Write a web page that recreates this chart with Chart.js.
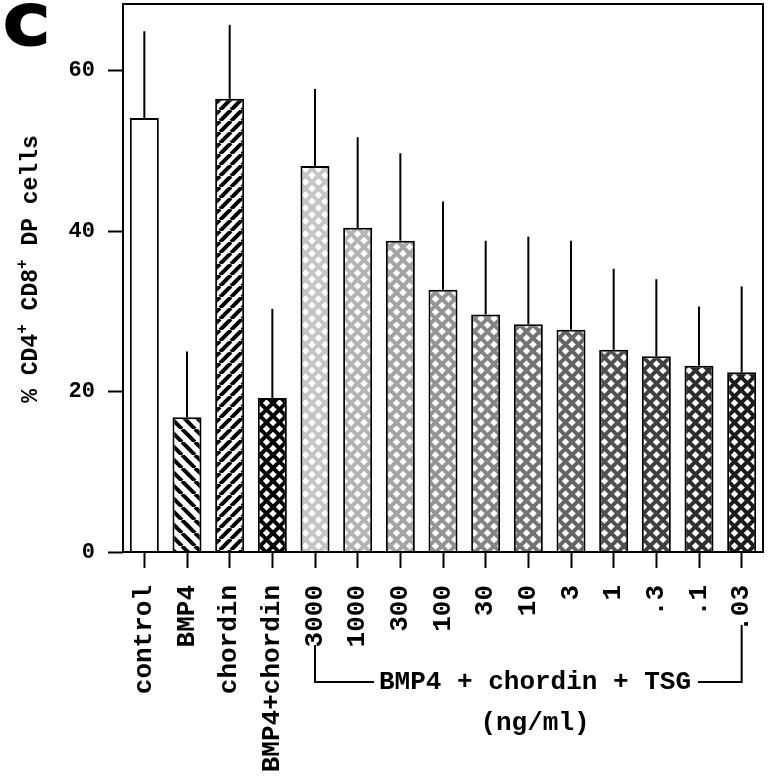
<!DOCTYPE html>
<html>
<head>
<meta charset="utf-8">
<script src="https://cdn.jsdelivr.net/npm/chart.js@4.4.1/dist/chart.umd.min.js"></script>
<style>
html, body { margin: 0; padding: 0; background: #fff; }
</style>
</head>
<body>
<canvas id="dpChart" width="770" height="782"></canvas>
<script>
// Daten
const categories = ['control', 'BMP4', 'chordin', 'BMP4+chordin', '3000', '1000', '300', '100', '30', '10', '3', '1', '.3', '.1', '.03'];
const meanValues = [54.1, 16.8, 56.5, 19.2, 48.1, 40.4, 38.8, 32.7, 29.6, 28.4, 27.7, 25.2, 24.4, 23.2, 22.4];
const sdValues = [10.8, 8.2, 9.2, 11.1, 9.6, 11.3, 10.9, 11.0, 9.2, 10.9, 11.1, 10.1, 9.6, 7.4, 10.7];
const yTicks = [0, 20, 40, 60];
const yMax = 68.3;
const groupLabel = 'BMP4 + chordin + TSG';
const unitLabel = '(ng/ml)';
const panelLetter = 'C';

// Füllung je Balken
const barFills = ['plain', 'hatchDown', 'hatchUp', '#000000',
    '#c6c6c6', '#b4b4b4', '#a4a4a4', '#949494', '#858585', '#747474',
    '#646464', '#525252', '#404040', '#2e2e2e', '#1c1c1c'];

const MONO = '"Liberation Mono", "DejaVu Sans Mono", monospace';

function makeHatch(dir, period, lw) {
    const c = document.createElement('canvas');
    c.width = period; c.height = period;
    const g = c.getContext('2d');
    g.fillStyle = '#fff';
    g.fillRect(0, 0, period, period);
    g.strokeStyle = '#000';
    g.lineWidth = lw;
    for (let k = -1; k <= 1; k++) {
        g.beginPath();
        if (dir > 0) {
            g.moveTo(k * period, period);
            g.lineTo(k * period + period, 0);
        } else {
            g.moveTo(k * period, 0);
            g.lineTo(k * period + period, period);
        }
        g.stroke();
    }
    return g.createPattern(c, 'repeat');
}

function makeCross(color, period, lw) {
    const c = document.createElement('canvas');
    c.width = period; c.height = period;
    const g = c.getContext('2d');
    g.fillStyle = '#fff';
    g.fillRect(0, 0, period, period);
    g.strokeStyle = color;
    g.lineWidth = lw;
    for (let k = -1; k <= 1; k++) {
        g.beginPath();
        g.moveTo(k * period, period);
        g.lineTo(k * period + period, 0);
        g.moveTo(k * period, 0);
        g.lineTo(k * period + period, period);
        g.stroke();
    }
    return g.createPattern(c, 'repeat');
}

const fills = barFills.map(f => {
    if (f === 'plain') return '#ffffff';
    if (f === 'hatchDown') return makeHatch(-1, 13, 4);
    if (f === 'hatchUp') return makeHatch(1, 11, 4);
    return makeCross(f, 13, 4);
});

// Fehlerbalken (nur nach oben)
const errorBarPlugin = {
    id: 'errorBars',
    afterDatasetsDraw(chart) {
        const meta = chart.getDatasetMeta(0);
        const y = chart.scales.y;
        const ctx = chart.ctx;
        ctx.save();
        ctx.strokeStyle = '#000';
        ctx.lineWidth = 2;
        meta.data.forEach((bar, i) => {
            const top = y.getPixelForValue(meanValues[i] + sdValues[i]);
            ctx.beginPath();
            ctx.moveTo(bar.x, bar.y);
            ctx.lineTo(bar.x, top);
            ctx.stroke();
        });
        ctx.restore();
    }
};

// Rahmen, Achsentitel, Klammer, Buchstabe
const decorPlugin = {
    id: 'decor',
    afterDraw(chart) {
        const ctx = chart.ctx;
        const ca = chart.chartArea;
        const x = chart.scales.x;
        ctx.save();

        // Rahmen
        ctx.strokeStyle = '#000';
        ctx.lineWidth = 2;
        ctx.strokeRect(ca.left, ca.top, ca.right - ca.left, ca.bottom - ca.top);

        // Panel-Buchstabe
        ctx.save();
        ctx.translate(4, 44);
        ctx.scale(1.12, 1);
        ctx.font = 'bold 54px "DejaVu Sans", sans-serif';
        ctx.fillStyle = '#000';
        ctx.strokeStyle = '#000';
        ctx.lineWidth = 3;
        ctx.textBaseline = 'alphabetic';
        ctx.fillText(panelLetter, 0, 0);
        ctx.strokeText(panelLetter, 0, 0);
        ctx.restore();

        // y-Titel mit Hochstellung
        const parts = [
            { t: '% CD4', sup: false }, { t: '+', sup: true },
            { t: ' CD8', sup: false }, { t: '+', sup: true },
            { t: ' DP cells', sup: false }
        ];
        const mainFont = 'bold 23px ' + MONO;
        const supFont = 'bold 16px ' + MONO;
        let total = 0;
        parts.forEach(p => {
            ctx.font = p.sup ? supFont : mainFont;
            p.w = ctx.measureText(p.t).width;
            total += p.w;
        });
        ctx.save();
        ctx.translate(30, 269);
        ctx.rotate(-Math.PI / 2);
        ctx.fillStyle = '#000';
        ctx.textBaseline = 'alphabetic';
        ctx.textAlign = 'left';
        let px = -total / 2;
        parts.forEach(p => {
            ctx.font = p.sup ? supFont : mainFont;
            ctx.fillText(p.t, px, p.sup ? -3 : 7);
            px += p.w;
        });
        ctx.restore();

        // Klammer unter den TSG-Konzentrationen
        const xl = x.getPixelForValue(4);
        const xr = x.getPixelForValue(14);
        const yLine = 682;
        const textX = 535;
        ctx.font = 'bold 26px ' + MONO;
        ctx.fillStyle = '#000';
        ctx.textAlign = 'center';
        ctx.textBaseline = 'middle';
        const tw = ctx.measureText(groupLabel).width;
        ctx.fillText(groupLabel, textX, yLine);
        ctx.fillText(unitLabel, textX, 723);
        ctx.lineWidth = 2;
        ctx.beginPath();
        ctx.moveTo(xl, 645);
        ctx.lineTo(xl, yLine);
        ctx.lineTo(textX - tw / 2 - 5, yLine);
        ctx.moveTo(textX + tw / 2 + 7, yLine);
        ctx.lineTo(xr, yLine);
        ctx.lineTo(xr, 625);
        ctx.stroke();

        ctx.restore();
    }
};

new Chart(document.getElementById('dpChart'), {
    type: 'bar',
    data: {
        labels: categories,
        datasets: [{
            data: meanValues,
            backgroundColor: fills,
            borderColor: '#000',
            borderWidth: 2,
            barPercentage: 1,
            categoryPercentage: 0.68
        }]
    },
    options: {
        responsive: false,
        devicePixelRatio: 1,
        animation: false,
        layout: { padding: { top: 4, right: 7, left: 0, bottom: 0 } },
        plugins: {
            legend: { display: false },
            tooltip: { enabled: false }
        },
        scales: {
            x: {
                border: { display: false },
                grid: {
                    offset: false,
                    drawOnChartArea: false,
                    drawTicks: true,
                    tickLength: 16,
                    tickWidth: 2,
                    tickColor: '#000'
                },
                ticks: {
                    autoSkip: false,
                    minRotation: 90,
                    maxRotation: 90,
                    padding: 17,
                    color: '#000',
                    font: { family: MONO, size: 26, weight: 'bold' }
                },
                afterFit: s => {
                    s.height = 230;
                    s.paddingLeft = 0;
                    s.paddingRight = 0;
                }
            },
            y: {
                min: 0,
                max: yMax,
                border: { display: false },
                grid: {
                    drawOnChartArea: false,
                    drawTicks: true,
                    tickLength: 15,
                    tickWidth: 2,
                    tickColor: '#000'
                },
                ticks: {
                    padding: 13,
                    color: '#000',
                    font: { family: MONO, size: 22, weight: 'bold' }
                },
                afterBuildTicks: s => { s.ticks = yTicks.map(v => ({ value: v })); },
                afterFit: s => {
                    s.width = 123;
                    s.paddingTop = 0;
                    s.paddingBottom = 0;
                }
            }
        }
    },
    plugins: [errorBarPlugin, decorPlugin]
});
</script>
</body>
</html>
